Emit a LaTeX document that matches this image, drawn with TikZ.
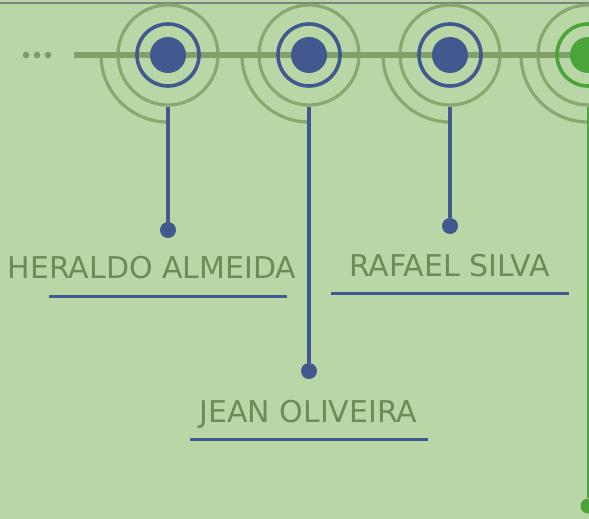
\documentclass[tikz,border=0pt]{standalone}
\usepackage{fontspec}
\setmainfont{DejaVu Sans}
\usepackage{xcolor}

\definecolor{bgGreen}{HTML}{B9D7A6}
\definecolor{ringGreen}{HTML}{88A870}
\definecolor{nameGreen}{HTML}{6B8C56}
\definecolor{evtBlue}{HTML}{41598E}
\definecolor{nowGreen}{HTML}{4BA43A}

\tikzset{
  halo/.style={circle, draw=ringGreen, line width=3.2pt, minimum size=100pt, inner sep=0pt},
  evtring/.style={circle, draw=#1, line width=3.6pt, minimum size=62pt, inner sep=0pt},
  evt/.style={circle, fill=#1, minimum size=36pt, inner sep=0pt},
  stem/.style={draw=evtBlue, line width=4pt},
  pin/.style={circle, fill=evtBlue, minimum size=16pt, inner sep=0pt},
  person/.style={text=nameGreen, font=\fontsize{30}{36}\selectfont, anchor=base, inner sep=0pt},
  underline/.style={draw=evtBlue, line width=3pt}
}

\begin{document}
\begin{tikzpicture}[x=1pt, y=1pt]

  % ==========================================
  % Background and frame
  % ==========================================
  \fill[bgGreen] (0,0) rectangle (589,-519);
  \useasboundingbox (0,0) rectangle (589,-519);
  \draw[gray, line width=2pt] (0,-3.5) -- (589,-3.5);

  % ==========================================
  % Timeline axis
  % ==========================================
  \begin{scope}
    \clip (0,0) rectangle (589,-519);

    % Halos and quarter arcs
    \foreach \n/\x in {1/168, 2/309, 3/450, 4/588} {
      \node[halo] (halo\n) at (\x,-55) {};
      \draw[ringGreen, line width=3.2pt] (halo\n.center) ++(180:67) arc[start angle=180, end angle=270, radius=67];
    }

    % Axis line and leading dots
    \draw[ringGreen!95!black, line width=6pt] (74,-55) -- (600,-55);
    \fill[ringGreen!93!black] (26,-55) circle (3.3) (37,-55) circle (3.3) (48,-55) circle (3.3);

    % Past events (blue)
    \foreach \n in {1,2,3} {
      \node[evtring=evtBlue] (ring\n) at (halo\n) {};
      \node[evt=evtBlue] (ev\n) at (halo\n) {};
    }

    % Current event (green)
    \node[evtring=nowGreen] (ring4) at (halo4) {};
    \node[evt=nowGreen] (ev4) at (halo4) {};
    \node[circle, fill=nowGreen, minimum size=15pt, inner sep=0pt] (pin4) at (588,-506) {};
    \draw[nowGreen, line width=3pt] (halo4) -- (pin4);
  \end{scope}

  % ==========================================
  % Stems and pins
  % ==========================================
  \node[pin] (pin1) at (168,-230) {};
  \node[pin] (pin2) at (309,-371) {};
  \node[pin] (pin3) at (450,-226) {};
  \draw[stem] (halo1) -- (pin1);
  \draw[stem] (halo2) -- (pin2);
  \draw[stem] (halo3) -- (pin3);

  % ==========================================
  % Names
  % ==========================================
  \node[person] (name1) at (152,-278) {HERALDO ALMEIDA};
  \draw[underline] (49,-296) -- (287,-296);

  \node[person] (name3) at (449.5,-276) {RAFAEL SILVA};
  \draw[underline] (331,-293) -- (569,-293);

  \node[person] (name2) at (308.5,-422) {JEAN OLIVEIRA};
  \draw[underline] (190,-439) -- (428,-439);

\end{tikzpicture}
\end{document}
